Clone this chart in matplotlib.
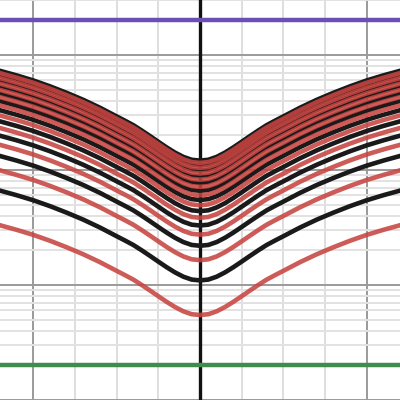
import numpy as np
import matplotlib
matplotlib.use('Agg')
import matplotlib.pyplot as plt

# base curve (lowest red one), right half
x_half = [0.0, 0.05, 0.1, 0.15, 0.2, 0.25, 0.3, 0.35, 0.4, 0.45, 0.5,
          0.6, 0.7, 0.8, 0.9, 1.0, 1.1, 1.2, 1.25]
y_half = [0.548, 0.557, 0.590, 0.643, 0.713, 0.798, 0.895, 1.001, 1.113, 1.217, 1.326,
          1.578, 1.847, 2.126, 2.422, 2.724, 3.014, 3.304, 3.447]

# every other curve is the base curve scaled by n
scales = [1, 2, 3, 4, 5, 6, 7, 8, 9, 10, 11, 12, 13, 14, 15, 16, 17, 18, 19, 20, 21, 22]

top_level = 200.0     # purple line
bottom_level = 0.2    # green line

x_lim = (-1.2, 1.2)
y_lim = (0.1, 300.0)

# mirror the half curve
xs = np.array([-v for v in x_half[::-1]] + x_half[1:])
base = np.array(y_half[::-1] + y_half[1:])

fig = plt.figure(figsize=(4, 4), dpi=100, facecolor='white')
ax = fig.add_axes([0, 0, 1, 1])
ax.set_yscale('log')
ax.set_xlim(*x_lim)
ax.set_ylim(*y_lim)
ax.set_axis_off()

# grid
for gx in [-1.0, -0.75, -0.5, -0.25, 0.25, 0.5, 0.75, 1.0]:
    major = abs(gx) == 1.0
    ax.axvline(gx, color='#9a9a9a' if major else '#dedede', lw=1.4, zorder=0)
for dec in [0.1, 1, 10, 100]:
    ax.axhline(dec, color='#9a9a9a', lw=1.4, zorder=0)
    for k in range(2, 10):
        ax.axhline(dec * k, color='#e2e2e2', lw=1.4, zorder=0)

ax.axvline(0, color='#111111', lw=2.4, zorder=1)

# black ones (even n) first, red ones drawn over them
for n in scales:
    if n % 2 == 0:
        ax.plot(xs, base * n, color='#1a1a1a', lw=3.3, zorder=2, solid_capstyle='round')
for n in scales:
    if n % 2 == 1:
        ax.plot(xs, base * n, color='#c74440', lw=3.3, alpha=0.88, zorder=3, solid_capstyle='round')

ax.axhline(top_level, color='#6a4fb5', lw=3.2, zorder=4)
ax.axhline(bottom_level, color='#3f8c4f', lw=3.2, zorder=4)

fig.savefig('out.png', dpi=100, facecolor='white')
